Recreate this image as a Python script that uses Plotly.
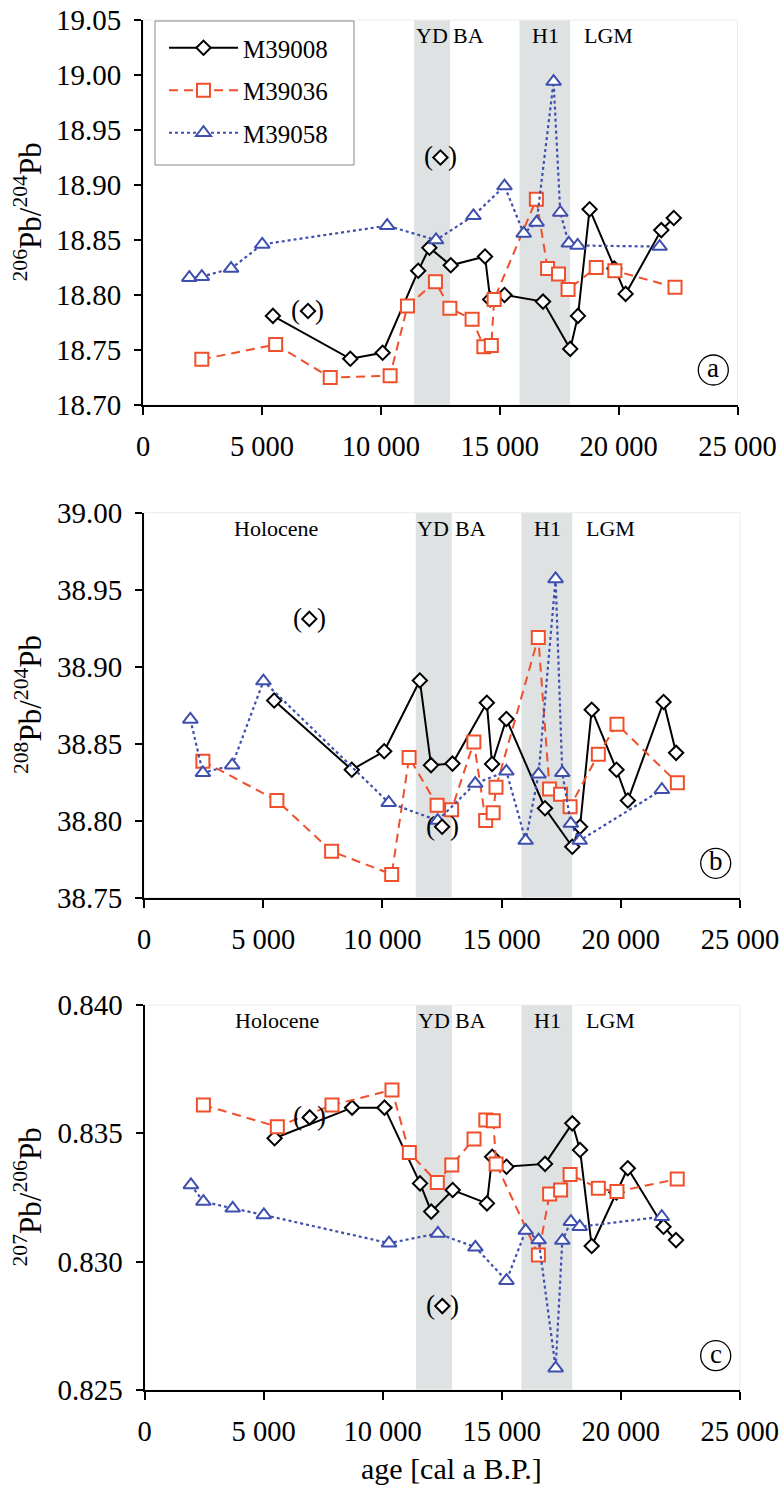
import plotly.graph_objects as go

FONT = "Liberation Serif"
W, H = 782, 1488

# ---------------- data ----------------
cores = ["M39008", "M39036", "M39058"]

age_M39008 = [5460, 8715, 10075, 11570, 12040, 12940, 14380, 14600, 15200, 16820,
              17965, 18290, 18780, 19820, 20295, 21795, 22320]
r206_204_M39008 = [18.781, 18.742, 18.7475, 18.822, 18.843, 18.827, 18.835, 18.796, 18.800,
                   18.794, 18.751, 18.781, 18.878, 18.824, 18.801, 18.859, 18.870]
r208_204_M39008 = [38.878, 38.833, 38.845, 38.891, 38.836, 38.837, 38.8765, 38.8367, 38.866,
                   38.808, 38.783, 38.796, 38.872, 38.833, 38.813, 38.877, 38.844]
r207_206_M39008 = [0.83481, 0.83600, 0.83600, 0.83305, 0.83195, 0.83279, 0.83227, 0.83409,
                   0.83370, 0.83381, 0.83539, 0.83435, 0.83061, 0.83270, 0.83364, 0.83136, 0.83084]

# bracketed (questionable) M39008 samples
age_M39008_out = [6935, 12505]
r206_204_M39008_out = [18.7855, 18.925]
r208_204_M39008_out = [38.931, 38.796]
r207_206_M39008_out = [0.83562, 0.82827]

age_M39036 = [2470, 5575, 7870, 10390, 11120, 12295, 12903, 13837, 14332, 14646, 14765,
              16540, 17012, 17473, 17873, 19058, 19840, 22372]
r206_204_M39036 = [18.7415, 18.755, 18.725, 18.7267, 18.790, 18.812, 18.788, 18.778, 18.753,
                   18.754, 18.796, 18.887, 18.824, 18.819, 18.805, 18.825, 18.822, 18.807]
r208_204_M39036 = [38.8386, 38.813, 38.780, 38.765, 38.841, 38.810, 38.807, 38.851, 38.800,
                   38.805, 38.8216, 38.919, 38.8205, 38.817, 38.809, 38.843, 38.8625, 38.8245]
r207_206_M39036 = [0.83610, 0.83526, 0.83610, 0.83669, 0.83425, 0.83308, 0.83377, 0.83478,
                   0.83552, 0.83549, 0.83381, 0.83026, 0.83264, 0.83279, 0.83340, 0.83286,
                   0.83273, 0.83322]

age_M39058 = [1945, 2470, 3700, 5010, 10265, 12320, 13895, 15200, 16008, 16550, 17265,
              17545, 17905, 18277, 21723]
r206_204_M39058 = [18.8157, 18.8167, 18.824, 18.846, 18.863, 18.850, 18.872, 18.899, 18.856,
                   18.866, 18.994, 18.875, 18.847, 18.845, 18.844]
r208_204_M39058 = [38.8657, 38.831, 38.836, 38.8906, 38.8116, 38.800, 38.824, 38.832, 38.787,
                   38.830, 38.957, 38.831, 38.798, 38.787, 38.820]
r207_206_M39058 = [0.83299, 0.83234, 0.83208, 0.83182, 0.83072, 0.83110, 0.83056, 0.82926,
                   0.83121, 0.83084, 0.82585, 0.83082, 0.83156, 0.83136, 0.83175]

# climate periods (cal a B.P.)
band_YD = [11400, 12910]
band_H1 = [15830, 17960]
period_labels = ["YD", "BA", "H1", "LGM", "Holocene"]
period_label_age = [12140, 13680, 16915, 19560, 5550]

x_tickvals = [0, 5000, 10000, 15000, 20000, 25000]
x_ticktext = ["0", "5 000", "10 000", "15 000", "20 000", "25 000"]

# ---------------- styles ----------------
style = {
    "M39008": dict(color="black", dash="solid", symbol="diamond", size=11, width=2),
    "M39036": dict(color="#ef4f2b", dash="9px,6px", symbol="square", size=13, width=2),
    "M39058": dict(color="#3f4fae", dash="dot", symbol="triangle-up", size=13, width=2.2),
}

ages = {"M39008": age_M39008, "M39036": age_M39036, "M39058": age_M39058}
panels = [
    dict(vals={"M39008": r206_204_M39008, "M39036": r206_204_M39036, "M39058": r206_204_M39058},
         out=r206_204_M39008_out, xd=[143.1, 737.5], yd=[20, 405], yr=[18.70, 19.05],
         dtick=0.05, fmt=".2f", title="<sup>206</sup>Pb/<sup>204</sup>Pb", letter="a",
         lc=(713.3, 370), labels=["YD", "BA", "H1", "LGM"]),
    dict(vals={"M39008": r208_204_M39008, "M39036": r208_204_M39036, "M39058": r208_204_M39058},
         out=r208_204_M39008_out, xd=[144.0, 740.0], yd=[512.7, 897.5], yr=[38.75, 39.00],
         dtick=0.05, fmt=".2f", title="<sup>208</sup>Pb/<sup>204</sup>Pb", letter="b",
         lc=(715.7, 863.3), labels=period_labels),
    dict(vals={"M39008": r207_206_M39008, "M39036": r207_206_M39036, "M39058": r207_206_M39058},
         out=r207_206_M39008_out, xd=[144.6, 739.8], yd=[1005, 1390], yr=[0.825, 0.840],
         dtick=0.005, fmt=".3f", title="<sup>207</sup>Pb/<sup>206</sup>Pb", letter="c",
         lc=(715.7, 1355.7), labels=period_labels),
]

fig = go.Figure()
shapes, annotations = [], []
layout_axes = {}


def px2fx(x):
    return x / W


def px2fy(y):
    return 1 - y / H


def ann(**kw):
    d = dict(showarrow=False, xanchor="center", yanchor="middle")
    d.update(kw)
    annotations.append(d)


for i, p in enumerate(panels):
    n = "" if i == 0 else str(i + 1)
    xa, ya = "x" + n, "y" + n
    layout_axes["xaxis" + n] = dict(
        domain=[px2fx(p["xd"][0]), px2fx(p["xd"][1])], anchor=ya, range=[0, 25000],
        tickvals=x_tickvals, ticktext=x_ticktext, showline=True, linecolor="black",
        linewidth=2, ticks="outside", ticklen=8, tickwidth=2, tickcolor="black",
        showgrid=False, zeroline=False, ticklabelstandoff=7, automargin=False,
        tickfont=dict(family=FONT, size=28.5, color="black"))
    layout_axes["yaxis" + n] = dict(
        domain=[px2fy(p["yd"][1]), px2fy(p["yd"][0])], anchor=xa, range=p["yr"],
        dtick=p["dtick"], tick0=p["yr"][0], tickformat=p["fmt"], showline=True,
        linecolor="black", linewidth=2, ticks="outside", ticklen=7, tickwidth=2,
        tickcolor="black", showgrid=False, zeroline=False, ticklabelstandoff=7,
        automargin=False, tickfont=dict(family=FONT, size=29, color="black"))

    # climate period bands
    for b in (band_YD, band_H1):
        shapes.append(dict(type="rect", xref=xa, yref=ya + " domain", x0=b[0], x1=b[1],
                           y0=0, y1=1, fillcolor="#dfe2e3", line=dict(width=0), layer="below"))
    # faint frame
    shapes.append(dict(type="rect", xref=xa + " domain", yref=ya + " domain", x0=0, x1=1,
                       y0=0, y1=1, line=dict(color="#ececec", width=1), layer="below"))

    for c in cores:
        s = style[c]
        fig.add_trace(go.Scatter(
            x=ages[c], y=p["vals"][c], xaxis=xa, yaxis=ya, name=c, legendgroup=c,
            showlegend=(i == 0), mode="lines+markers",
            line=dict(color=s["color"], width=s["width"], dash=s["dash"]),
            marker=dict(symbol=s["symbol"], size=s["size"], color="white",
                        line=dict(color=s["color"], width=2))))
    # bracketed samples
    s = style["M39008"]
    fig.add_trace(go.Scatter(
        x=age_M39008_out, y=p["out"], xaxis=xa, yaxis=ya, showlegend=False, mode="markers",
        marker=dict(symbol="diamond", size=s["size"], color="white",
                    line=dict(color="black", width=2))))
    for ax_, ay_ in zip(age_M39008_out, p["out"]):
        for txt, sh in (("(", -12), (")", 12)):
            ann(x=ax_, y=ay_, xref=xa, yref=ya, text=txt, xshift=sh, yshift=1,
                font=dict(family=FONT, size=27, color="black"))

    # period labels
    for lab, la in zip(period_labels, period_label_age):
        if lab in p["labels"]:
            ann(x=la, y=0.96, xref=xa, yref=ya + " domain", text=lab,
                font=dict(family=FONT, size=22, color="black"))

    # y-axis title
    ann(x=px2fx(28), y=px2fy((p["yd"][0] + p["yd"][1]) / 2), xref="paper", yref="paper",
        text=p["title"], textangle=-90, font=dict(family=FONT, size=31, color="black"))

    # circled panel letter
    cx, cy = p["lc"]
    r = 15
    shapes.append(dict(type="circle", xref="paper", yref="paper", x0=px2fx(cx - r),
                       x1=px2fx(cx + r), y0=px2fy(cy + r), y1=px2fy(cy - r),
                       line=dict(color="black", width=1.3)))
    ann(x=px2fx(cx), y=px2fy(cy), xref="paper", yref="paper", text=p["letter"], yshift=2,
        font=dict(family=FONT, size=27, color="black"))

# x-axis title
ann(x=px2fx(451), y=px2fy(1468), xref="paper", yref="paper", text="age [cal a B.P.]",
    font=dict(family=FONT, size=30, color="black"))

# legend box
shapes.append(dict(type="rect", xref="paper", yref="paper", x0=px2fx(155), x1=px2fx(354),
                   y0=px2fy(165), y1=px2fy(21), fillcolor="white",
                   line=dict(color="#888888", width=1), layer="below"))

fig.update_layout(
    width=W, height=H, margin=dict(l=0, r=0, t=0, b=0, pad=0, autoexpand=False),
    paper_bgcolor="white", plot_bgcolor="white",
    shapes=shapes, annotations=annotations,
    legend=dict(x=px2fx(164), y=px2fy(25), xanchor="left", yanchor="top",
                bgcolor="rgba(0,0,0,0)", borderwidth=0, traceorder="grouped",
                tracegroupgap=7, itemwidth=69,
                font=dict(family=FONT, size=25, color="black")),
    **layout_axes)

fig.write_html("out.html", config={"displayModeBar": False},
               post_script="document.body.style.margin='0px';")
